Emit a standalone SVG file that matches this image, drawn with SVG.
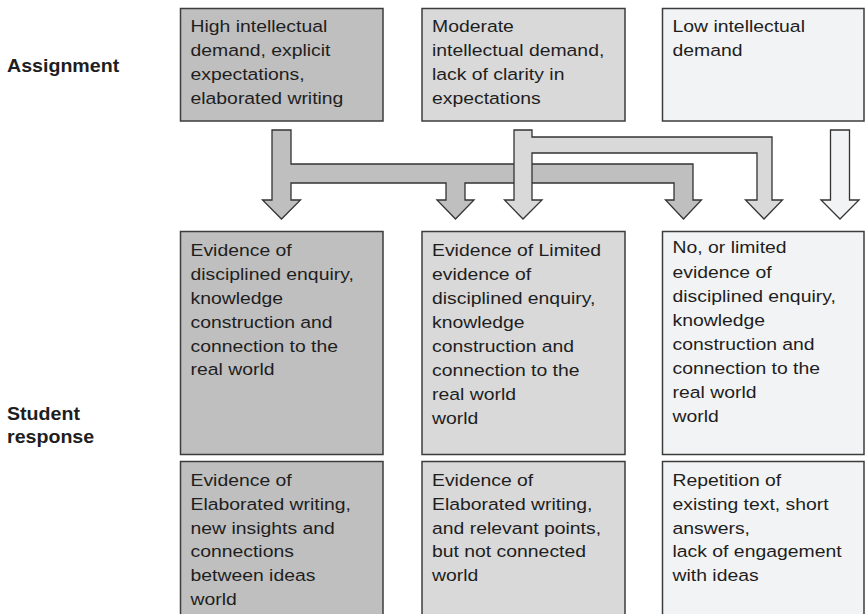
<svg xmlns="http://www.w3.org/2000/svg" width="865" height="614" viewBox="0 0 865 614">
  <style>
    .box { stroke: #3c3c3c; stroke-width: 1.5; }
    .dark { fill: #bfbfbf; }
    .mid { fill: #d9d9d9; }
    .pale { fill: #f2f3f4; }
    .arrow { stroke: #333333; stroke-width: 1.3; stroke-linejoin: miter; }
    .t { font-family: "Liberation Sans", Arial, sans-serif; font-size: 17px; fill: #1e1e1e; }
    .lbl { font-family: "Liberation Sans", Arial, sans-serif; font-size: 18px; font-weight: bold; fill: #1e1e1e; }
  </style>
  <rect x="0" y="0" width="865" height="614" fill="#ffffff"/>

  <!-- row labels -->
  <g id="label-assignment" transform="translate(7,0) scale(1.09,1)">
    <text class="lbl" x="0" y="72.5">Assignment</text>
  </g>
  <g id="label-student" transform="translate(7,0) scale(1.09,1)">
    <text class="lbl" x="0" y="420">Student</text>
    <text class="lbl" x="0" y="443">response</text>
  </g>

  <!-- connectors: branching block arrows -->
  <g id="connectors">
    <polygon class="arrow dark" points="272,130 291,130 291,164 693,164 693,200 701.5,200 683.5,219 665.5,200 674,200 674,183 465,183 465,200 474,200 455.5,219 437,200 446,200 446,183 291,183 291,200 300.5,200 281.5,219 262.5,200 272,200"/>
    <polygon class="arrow mid" points="514,130 532,130 532,137 772,137 772,200 782.5,200 764,219 745.5,200 757,200 757,153 532,153 532,200 542,200 523,219 504.5,200 514,200"/>
    <polygon class="arrow pale" points="830.5,130 849.5,130 849.5,200 859,200 840,219 821,200 830.5,200"/>
  </g>

  <!-- assignment row -->
  <g id="assign-high">
    <rect class="box dark" x="180.5" y="8.5" width="202.5" height="112.5"/>
    <g transform="translate(190.5,0) scale(1.14,1)">
      <text class="t" x="0" y="32.5">High intellectual</text>
      <text class="t" x="0" y="56.3">demand, explicit</text>
      <text class="t" x="0" y="80.1">expectations,</text>
      <text class="t" x="0" y="103.9">elaborated writing</text>
    </g>
  </g>
  <g id="assign-moderate">
    <rect class="box mid" x="422" y="8.5" width="203" height="112.5"/>
    <g transform="translate(432,0) scale(1.14,1)">
      <text class="t" x="0" y="32.5">Moderate</text>
      <text class="t" x="0" y="56.3">intellectual demand,</text>
      <text class="t" x="0" y="80.1">lack of clarity in</text>
      <text class="t" x="0" y="103.9">expectations</text>
    </g>
  </g>
  <g id="assign-low">
    <rect class="box pale" x="662.5" y="8.5" width="201.5" height="112.5"/>
    <g transform="translate(672.5,0) scale(1.14,1)">
      <text class="t" x="0" y="32.5">Low intellectual</text>
      <text class="t" x="0" y="56.3">demand</text>
    </g>
  </g>

  <!-- student response row: enquiry -->
  <g id="enquiry-high">
    <rect class="box dark" x="180.5" y="231.5" width="202.5" height="223"/>
    <g transform="translate(190.5,0) scale(1.14,1)">
      <text class="t" x="0" y="256.5">Evidence of</text>
      <text class="t" x="0" y="280.3">disciplined enquiry,</text>
      <text class="t" x="0" y="304.1">knowledge</text>
      <text class="t" x="0" y="327.9">construction and</text>
      <text class="t" x="0" y="351.7">connection to the</text>
      <text class="t" x="0" y="375.5">real world</text>
    </g>
  </g>
  <g id="enquiry-moderate">
    <rect class="box mid" x="422" y="231.5" width="203" height="223"/>
    <g transform="translate(432,0) scale(1.14,1)">
      <text class="t" x="0" y="256.5">Evidence of Limited</text>
      <text class="t" x="0" y="280.4">evidence of</text>
      <text class="t" x="0" y="304.3">disciplined enquiry,</text>
      <text class="t" x="0" y="328.2">knowledge</text>
      <text class="t" x="0" y="352.1">construction and</text>
      <text class="t" x="0" y="376">connection to the</text>
      <text class="t" x="0" y="399.9">real world</text>
      <text class="t" x="0" y="423.8">world</text>
    </g>
  </g>
  <g id="enquiry-low">
    <rect class="box pale" x="662.5" y="231.5" width="201.5" height="223"/>
    <g transform="translate(672.5,0) scale(1.14,1)">
      <text class="t" x="0" y="253.5">No, or limited</text>
      <text class="t" x="0" y="277.6">evidence of</text>
      <text class="t" x="0" y="301.7">disciplined enquiry,</text>
      <text class="t" x="0" y="325.8">knowledge</text>
      <text class="t" x="0" y="349.9">construction and</text>
      <text class="t" x="0" y="374">connection to the</text>
      <text class="t" x="0" y="398.1">real world</text>
      <text class="t" x="0" y="422.2">world</text>
    </g>
  </g>

  <!-- student response row: writing -->
  <g id="writing-high">
    <rect class="box dark" x="180.5" y="461.5" width="202.5" height="165"/>
    <g transform="translate(190.5,0) scale(1.14,1)">
      <text class="t" x="0" y="486">Evidence of</text>
      <text class="t" x="0" y="509.8">Elaborated writing,</text>
      <text class="t" x="0" y="533.6">new insights and</text>
      <text class="t" x="0" y="557.4">connections</text>
      <text class="t" x="0" y="581.2">between ideas</text>
      <text class="t" x="0" y="605">world</text>
    </g>
  </g>
  <g id="writing-moderate">
    <rect class="box mid" x="422" y="461.5" width="203" height="165"/>
    <g transform="translate(432,0) scale(1.14,1)">
      <text class="t" x="0" y="486">Evidence of</text>
      <text class="t" x="0" y="509.8">Elaborated writing,</text>
      <text class="t" x="0" y="533.6">and relevant points,</text>
      <text class="t" x="0" y="557.4">but not connected</text>
      <text class="t" x="0" y="581.2">world</text>
    </g>
  </g>
  <g id="writing-low">
    <rect class="box pale" x="662.5" y="461.5" width="201.5" height="165"/>
    <g transform="translate(672.5,0) scale(1.14,1)">
      <text class="t" x="0" y="486">Repetition of</text>
      <text class="t" x="0" y="509.8">existing text, short</text>
      <text class="t" x="0" y="533.6">answers,</text>
      <text class="t" x="0" y="557.4">lack of engagement</text>
      <text class="t" x="0" y="581.2">with ideas</text>
    </g>
  </g>
</svg>
